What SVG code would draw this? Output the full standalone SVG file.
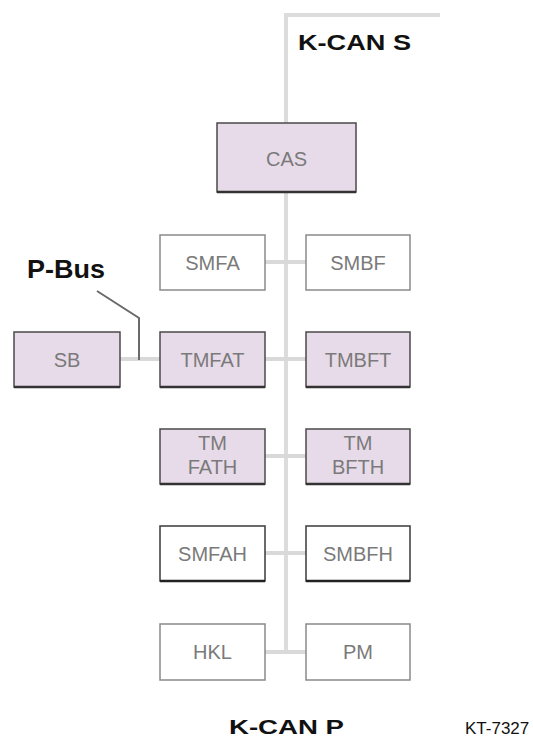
<svg xmlns="http://www.w3.org/2000/svg" width="533" height="738" viewBox="0 0 533 738">
<style>
.bus{stroke:#dcdcdc;stroke-width:4;fill:none}
.conn{stroke:#d9d9d9;stroke-width:4;fill:none}
.lead{stroke:#6a6a6a;stroke-width:2;fill:none}
.p rect{fill:#e8dbe9;stroke:#4a4a4a;stroke-width:1.5}
.p line{stroke:#333;stroke-width:2.5}
.w rect{fill:#fff;stroke:#8a8a8a;stroke-width:1.5}
.d rect{fill:#fff;stroke:#3a3a3a;stroke-width:1.5}
.d line{stroke:#222;stroke-width:2.5}
.t{font-family:"Liberation Sans",Arial,sans-serif;font-size:20px;fill:#7a7a7a;text-anchor:middle}
.b{font-family:"Liberation Sans",Arial,sans-serif;font-weight:bold;fill:#111}
</style>
<g id="connectors">
<polyline class="bus" points="286,13 286,652"/>
<line class="bus" x1="284" y1="15" x2="440" y2="15" stroke-width="5"/>
<line class="conn" x1="265" y1="262" x2="306" y2="262"/>
<line class="conn" x1="120" y1="359" x2="160" y2="359"/>
<line class="conn" x1="265" y1="359" x2="306" y2="359"/>
<line class="conn" x1="265" y1="456" x2="306" y2="456"/>
<line class="conn" x1="265" y1="553" x2="306" y2="553"/>
<line class="conn" x1="265" y1="652" x2="306" y2="652"/>
<polyline class="lead" points="97,291 139,318 139,360"/>
</g>
<g id="labels">
<text class="b" x="298" y="50" font-size="22" textLength="113" lengthAdjust="spacingAndGlyphs">K-CAN S</text>
<text class="b" x="27" y="278" font-size="26" textLength="78" lengthAdjust="spacingAndGlyphs" fill="#000">P-Bus</text>
<text class="b" x="229" y="734" font-size="20" textLength="115" lengthAdjust="spacingAndGlyphs">K-CAN P</text>
<text x="465" y="734" font-family="Liberation Sans,Arial,sans-serif" font-size="17" fill="#111">KT-7327</text>
</g>
<g id="CAS" class="p"><rect x="217" y="123" width="139" height="69"/><line x1="217" y1="192" x2="356" y2="192"/><text class="t" x="286.5" y="166" font-size="23">CAS</text></g>
<g id="SMFA" class="w"><rect x="160" y="235" width="105" height="55"/><text class="t" x="212.5" y="270">SMFA</text></g>
<g id="SMBF" class="w"><rect x="306" y="235" width="104" height="55"/><text class="t" x="358" y="270">SMBF</text></g>
<g id="SB" class="p"><rect x="14" y="332" width="106" height="55"/><line x1="14" y1="387" x2="120" y2="387"/><text class="t" x="67" y="367">SB</text></g>
<g id="TMFAT" class="p"><rect x="160" y="332" width="105" height="55"/><line x1="160" y1="387" x2="265" y2="387"/><text class="t" x="212.5" y="367">TMFAT</text></g>
<g id="TMBFT" class="p"><rect x="306" y="332" width="104" height="55"/><line x1="306" y1="387" x2="410" y2="387"/><text class="t" x="358" y="367">TMBFT</text></g>
<g id="TMFATH" class="p"><rect x="160" y="429" width="105" height="55"/><line x1="160" y1="484" x2="265" y2="484"/><text class="t" x="212.5" y="450" font-size="19">TM</text><text class="t" x="212.5" y="474" font-size="19">FATH</text></g>
<g id="TMBFTH" class="p"><rect x="306" y="429" width="104" height="55"/><line x1="306" y1="484" x2="410" y2="484"/><text class="t" x="358" y="450" font-size="19">TM</text><text class="t" x="358" y="474" font-size="19">BFTH</text></g>
<g id="SMFAH" class="d"><rect x="160" y="526" width="105" height="55"/><line x1="160" y1="581" x2="265" y2="581"/><text class="t" x="212.5" y="561">SMFAH</text></g>
<g id="SMBFH" class="d"><rect x="306" y="526" width="104" height="55"/><line x1="306" y1="581" x2="410" y2="581"/><text class="t" x="358" y="561">SMBFH</text></g>
<g id="HKL" class="w"><rect x="160" y="624" width="105" height="56"/><text class="t" x="212.5" y="659" font-size="18">HKL</text></g>
<g id="PM" class="w"><rect x="306" y="624" width="104" height="56"/><text class="t" x="358" y="659" font-size="18">PM</text></g>
</svg>
